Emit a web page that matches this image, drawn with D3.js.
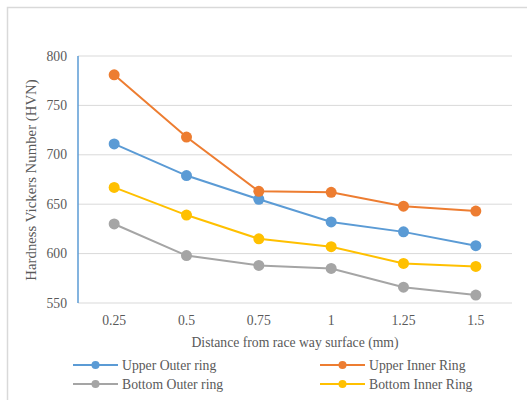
<!DOCTYPE html>
<html><head><meta charset="utf-8">
<script src="https://cdn.jsdelivr.net/npm/d3@7"></script>
<style>body{margin:0;background:#fff}svg{display:block}svg text{font-family:"Liberation Serif",serif}</style>
</head><body>
<svg id="c" width="527" height="400"></svg>
<script>
const categories = ["0.25","0.5","0.75","1","1.25","1.5"];
const upperOuter = [711,679,655,632,622,608];
const upperInner = [781,718,663,662,648,643];
const bottomOuter = [630,598,588,585,566,558];
const bottomInner = [667,639,615,607,590,587];
const seriesNames = ["Upper Outer ring","Upper Inner Ring","Bottom Outer ring","Bottom Inner Ring"];
const seriesColors = ["#5b9bd5","#ed7d31","#a5a5a5","#ffc000"];
const yTicks = [550,600,650,700,750,800];

const series = [upperOuter, upperInner, bottomOuter, bottomInner].map((v,i)=>({name:seriesNames[i], color:seriesColors[i], values:v}));

const svg = d3.select("#c");
const txt = "#595959";
const fs = 13.7;

svg.append("rect").attr("x",7.5).attr("y",7.5).attr("width",540).attr("height",420)
  .attr("fill","#fff").attr("stroke","#d9d9d9").attr("stroke-width",1.5);

const x = d3.scalePoint().domain(categories).range([78,512]).padding(0.5);
const y = d3.scaleLinear().domain([550,800]).range([303,56]);

const g = svg.append("g");
g.selectAll("line.grid").data(yTicks).enter().append("line")
  .attr("x1",78).attr("x2",512).attr("y1",d=>y(d)).attr("y2",d=>y(d))
  .attr("stroke","#d9d9d9").attr("stroke-width",1);

g.append("line").attr("x1",78).attr("x2",78).attr("y1",y(800)).attr("y2",y(550))
  .attr("stroke","#5b9bd5").attr("stroke-width",1.5);

g.selectAll("text.yt").data(yTicks).enter().append("text")
  .attr("x",67).attr("y",d=>y(d)+4.5).attr("text-anchor","end")
  .attr("font-size",fs).attr("fill",txt).text(d=>d);

g.selectAll("text.xt").data(categories).enter().append("text")
  .attr("x",d=>x(d)).attr("y",325).attr("text-anchor","middle")
  .attr("font-size",fs).attr("fill",txt).text(d=>d);

g.append("text").attr("x",295).attr("y",347).attr("text-anchor","middle")
  .attr("font-size",fs).attr("fill",txt)
  .text("Distance from race way surface (mm)");

g.append("text").attr("transform","translate(36,180) rotate(-90)").attr("text-anchor","middle")
  .attr("font-size",14.8).attr("fill",txt)
  .text("Hardness Vickers Number (HVN)");

const line = d3.line().x((d,i)=>x(categories[i])).y(d=>y(d));
series.forEach(s=>{
  g.append("path").attr("d",line(s.values)).attr("fill","none").attr("stroke",s.color).attr("stroke-width",2);
  g.selectAll(null).data(s.values).enter().append("circle")
    .attr("cx",(d,i)=>x(categories[i])).attr("cy",d=>y(d)).attr("r",5.5).attr("fill",s.color);
});

const legPos = [[73,365],[320,365],[73,384],[320,384]];
series.forEach((s,i)=>{
  const [lx,ly] = legPos[i];
  g.append("line").attr("x1",lx).attr("x2",lx+45).attr("y1",ly).attr("y2",ly).attr("stroke",s.color).attr("stroke-width",2);
  g.append("circle").attr("cx",lx+22.5).attr("cy",ly).attr("r",4).attr("fill",s.color);
  g.append("text").attr("x",lx+49).attr("y",ly+4.5).attr("font-size",fs).attr("fill",txt).text(s.name);
});
</script>
</body></html>
